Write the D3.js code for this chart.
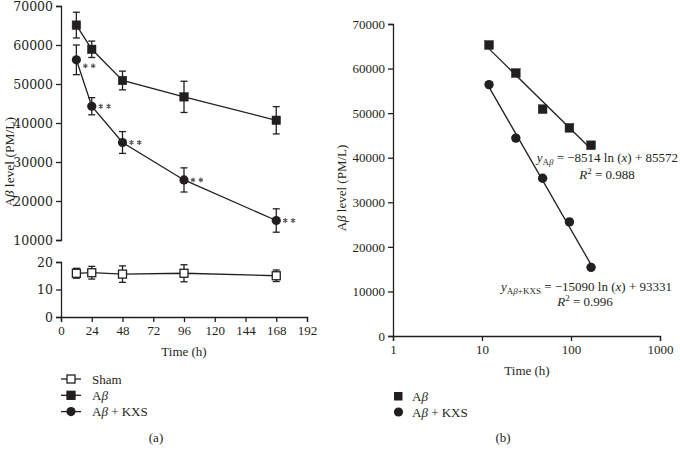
<!DOCTYPE html>
<html><head><meta charset="utf-8">
<script src="https://cdn.jsdelivr.net/npm/d3@7"></script>
<style>
body{margin:0;background:#fff;}
svg{font-family:"Liberation Serif","DejaVu Serif",serif;}
.axis path,.axis line{stroke:#231f20;stroke-width:1.3;}
.axis text{font-family:"Liberation Serif",serif;font-size:13px;fill:#231f20;}
.axis.wide text{font-family:"DejaVu Serif",serif;font-size:12.5px;}
</style></head>
<body>
<svg id="c" width="680" height="456"></svg>
<script>
// ---- data ----
const timesA = [12, 24, 48, 96, 168];
const shamMean = [15.9, 16.1, 15.6, 15.9, 15.0];
const shamErr  = [1.8, 2.3, 3.0, 3.1, 2.1];
const abMean   = [65100, 58900, 50900, 46700, 40700];
const abErr    = [3300, 2100, 2400, 4000, 3500];
const kxsMean  = [56200, 44300, 35000, 25400, 15000];
const kxsErr   = [3800, 2200, 2800, 3100, 3000];
const xTicksA  = [0, 24, 48, 72, 96, 120, 144, 168, 192];
const yTicksTop = [10000, 20000, 30000, 40000, 50000, 60000, 70000];
const yTicksBot = [0, 10, 20];

const timesB = [12, 24, 48, 96, 168];
const abB  = [65300, 59000, 50900, 46700, 42800];
const kxsB = [56400, 44400, 35400, 25600, 15400];
const fitAb  = {slope: -8514, icept: 85572, r2: "0.988"};
const fitKxs = {slope: -15090, icept: 93331, r2: "0.996"};
const xTicksB = [1, 10, 100, 1000];
const yTicksB = [0, 10000, 20000, 30000, 40000, 50000, 60000, 70000];

const ink = "#231f20";
const svg = d3.select("#c");

// ---- panel (a) ----
const xA = d3.scaleLinear().domain([0, 192]).range([61, 307]);
const yTop = d3.scaleLinear().domain([10000, 70000]).range([240, 6]);
const yBot = d3.scaleLinear().domain([0, 20]).range([317, 262]);

svg.append("g").attr("class","axis").attr("transform","translate(0,317)")
  .call(d3.axisBottom(xA).tickValues(xTicksA).tickSizeOuter(0).tickSize(5).tickPadding(4));
svg.append("g").attr("class","axis wide").attr("transform","translate(61,0)")
  .call(d3.axisLeft(yTop).tickValues(yTicksTop).tickSizeOuter(0).tickSize(5).tickFormat(d3.format("d")));
svg.append("g").attr("class","axis wide").attr("transform","translate(61,0)")
  .call(d3.axisLeft(yBot).tickValues(yTicksBot).tickSizeOuter(0).tickSize(5));

function errBars(g, xs, means, errs, x, y) {
  xs.forEach((t, i) => {
    const cx = x(t), y1 = y(means[i] + errs[i]), y2 = y(means[i] - errs[i]);
    g.append("line").attr("x1",cx).attr("x2",cx).attr("y1",y1).attr("y2",y2).attr("stroke",ink).attr("stroke-width",1.3);
    [y1, y2].forEach(yy => g.append("line").attr("x1",cx-3.5).attr("x2",cx+3.5).attr("y1",yy).attr("y2",yy).attr("stroke",ink).attr("stroke-width",1.3));
  });
}
function linePath(g, xs, vals, x, y) {
  g.append("path").datum(xs.map((t,i)=>[t, vals[i]]))
    .attr("d", d3.line().x(d=>x(d[0])).y(d=>y(d[1])))
    .attr("fill","none").attr("stroke",ink).attr("stroke-width",1.3);
}
function squares(g, xs, vals, x, y, s, open) {
  xs.forEach((t,i)=>{
    g.append("rect").attr("x",x(t)-s/2).attr("y",y(vals[i])-s/2).attr("width",s).attr("height",s)
      .attr("fill", open ? "#fff" : ink).attr("stroke",ink).attr("stroke-width", open ? 1.3 : 0.5);
  });
}
function circles(g, xs, vals, x, y, r) {
  xs.forEach((t,i)=>{
    g.append("circle").attr("cx",x(t)).attr("cy",y(vals[i])).attr("r",r).attr("fill",ink);
  });
}

const ga = svg.append("g");
// sham
errBars(ga, timesA, shamMean, shamErr, xA, yBot);
linePath(ga, timesA, shamMean, xA, yBot);
squares(ga, timesA, shamMean, xA, yBot, 8, true);
// Abeta
errBars(ga, timesA, abMean, abErr, xA, yTop);
linePath(ga, timesA, abMean, xA, yTop);
squares(ga, timesA, abMean, xA, yTop, 8.5, false);
// Abeta + KXS
errBars(ga, timesA, kxsMean, kxsErr, xA, yTop);
linePath(ga, timesA, kxsMean, xA, yTop);
circles(ga, timesA, kxsMean, xA, yTop, 4.6);
// significance marks (**)
const star = d3.symbol().type(d3.symbolAsterisk).size(16);
timesA.forEach((t,i)=>{
  const cy = yTop(kxsMean[i]) + (i===0 ? 6 : 0);
  [9, 16.8].forEach(dx => {
    ga.append("path").attr("d", star()).attr("transform", `translate(${xA(t)+dx},${cy})`)
      .attr("fill","none").attr("stroke","#555").attr("stroke-width",1.1);
  });
});

// axis labels (a)
function abText(sel, rest) {
  sel.append("tspan").text("A");
  sel.append("tspan").attr("font-style","italic").text("β");
  sel.append("tspan").text(rest);
}
const yla = svg.append("text").attr("transform","translate(13.5,162) rotate(-90)").attr("text-anchor","middle")
  .attr("font-size",13.5).attr("fill",ink);
abText(yla, " level (PM/L)");
svg.append("text").attr("x",184).attr("y",356).attr("text-anchor","middle").attr("font-size",13).attr("fill",ink).text("Time (h)");

// legend (a)
const legA = [{name:"Sham", kind:"open"}, {name:"Aβ", kind:"sq"}, {name:"Aβ + KXS", kind:"circ"}];
legA.forEach((d,i)=>{
  const y = 379 + i*16.3;
  svg.append("line").attr("x1",61).attr("x2",81).attr("y1",y).attr("y2",y).attr("stroke",ink).attr("stroke-width",1.3);
  if (d.kind==="circ") svg.append("circle").attr("cx",71).attr("cy",y).attr("r",4.6).attr("fill",ink);
  else svg.append("rect").attr("x",67).attr("y",y-4).attr("width",8).attr("height",8)
      .attr("fill", d.kind==="open" ? "#fff" : ink).attr("stroke",ink).attr("stroke-width",1.3);
  const t = svg.append("text").attr("x",92).attr("y",y+4.5).attr("font-size",13).attr("fill",ink);
  if (d.kind==="open") t.text(d.name); else abText(t, d.kind==="circ" ? " + KXS" : "");
});
svg.append("text").attr("x",156).attr("y",442).attr("text-anchor","middle").attr("font-size",13).attr("fill",ink).text("(a)");

// ---- panel (b) ----
const xB = d3.scaleLog().domain([1, 1000]).range([393, 660]);
const yB = d3.scaleLinear().domain([0, 70000]).range([336, 24]);
svg.append("g").attr("class","axis").attr("transform","translate(0,336)")
  .call(d3.axisBottom(xB).tickValues(xTicksB).tickFormat(d3.format("d")).tickSizeOuter(0).tickSize(5).tickPadding(4));
svg.append("g").attr("class","axis").attr("transform","translate(393,0)")
  .call(d3.axisLeft(yB).tickValues(yTicksB).tickFormat(d3.format("d")).tickSizeOuter(0).tickSize(5));

const gb = svg.append("g");
function fitLine(fit) {
  const pts = [timesB[0], timesB[timesB.length-1]].map(t => [t, fit.icept + fit.slope*Math.log(t)]);
  gb.append("path").datum(pts).attr("d", d3.line().x(d=>xB(d[0])).y(d=>yB(d[1])))
    .attr("fill","none").attr("stroke",ink).attr("stroke-width",1.3);
}
fitLine(fitAb);
fitLine(fitKxs);
squares(gb, timesB, abB, xB, yB, 8.7, false);
circles(gb, timesB, kxsB, xB, yB, 4.7);

const ylb = svg.append("text").attr("transform","translate(346,188) rotate(-90)").attr("text-anchor","middle")
  .attr("font-size",13).attr("fill",ink);
abText(ylb, " level (PM/L)");
svg.append("text").attr("x",527).attr("y",375).attr("text-anchor","middle").attr("font-size",13).attr("fill",ink).text("Time (h)");

function eqText(x, y, sub, fit, anchor) {
  const t = svg.append("text").attr("x",x).attr("y",y).attr("text-anchor",anchor).attr("font-size",13).attr("fill",ink);
  t.append("tspan").attr("font-style","italic").text("y");
  t.append("tspan").attr("font-size",9).attr("dy",3).text("A");
  t.append("tspan").attr("font-size",9).attr("font-style","italic").text("β");
  if (sub) t.append("tspan").attr("font-size",9).text(sub);
  t.append("tspan").attr("dy",-3).text(" = −" + Math.abs(fit.slope) + " ln (");
  t.append("tspan").attr("font-style","italic").text("x");
  t.append("tspan").text(") + " + fit.icept);
  return t;
}
function r2Text(x, y, fit) {
  const t = svg.append("text").attr("x",x).attr("y",y).attr("text-anchor","middle").attr("font-size",13).attr("fill",ink);
  t.append("tspan").attr("font-style","italic").text("R");
  t.append("tspan").attr("font-size",9).attr("dy",-5).text("2");
  t.append("tspan").attr("dy",5).text(" = " + fit.r2);
}
eqText(678, 162, "", fitAb, "end");
r2Text(607, 179, fitAb);
eqText(672, 291, "+KXS", fitKxs, "end");
r2Text(585, 306, fitKxs);

// legend (b)
svg.append("rect").attr("x",394).attr("y",392).attr("width",8.5).attr("height",8.5).attr("fill",ink);
svg.append("circle").attr("cx",398.5).attr("cy",412).attr("r",4.6).attr("fill",ink);
abText(svg.append("text").attr("x",412).attr("y",400.5).attr("font-size",13).attr("fill",ink), "");
abText(svg.append("text").attr("x",412).attr("y",416.5).attr("font-size",13).attr("fill",ink), " + KXS");
svg.append("text").attr("x",503).attr("y",442).attr("text-anchor","middle").attr("font-size",13).attr("fill",ink).text("(b)");
</script>
</body></html>
